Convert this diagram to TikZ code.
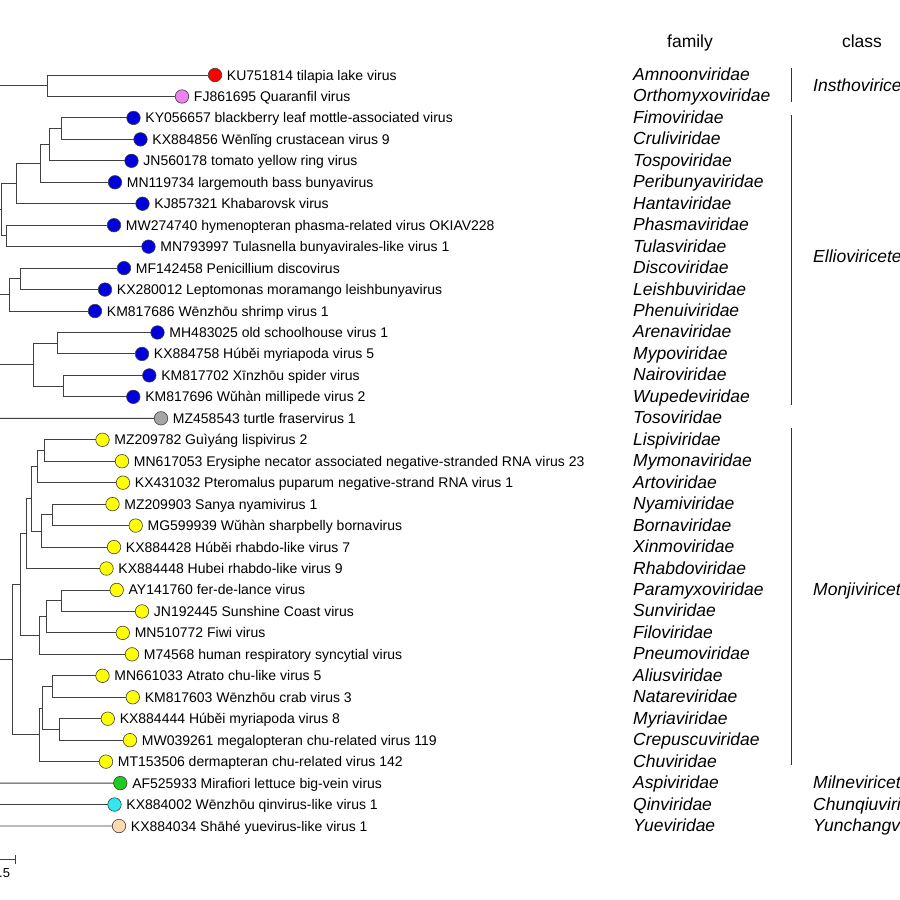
\documentclass[tikz,border=0pt]{standalone}
\usepackage{fontspec}
\setmainfont{Liberation Sans}
\usetikzlibrary{calc}
\definecolor{cRed}{HTML}{FF0000}
\definecolor{cViolet}{HTML}{EE82EE}
\definecolor{cBlue}{HTML}{0000DD}
\definecolor{cGray}{HTML}{A6A6A6}
\definecolor{cYellow}{HTML}{FFFF00}
\definecolor{cGreen}{HTML}{1ECB1E}
\definecolor{cCyan}{HTML}{33E6F0}
\definecolor{cPeach}{HTML}{FCD9AE}
\begin{document}
\begin{tikzpicture}[x=1pt,y=-1pt,
  branch/.style={draw=black!75, line width=0.9pt},
  classbar/.style={draw=black!80, line width=0.9pt},
  tipdot/.style={circle, draw=black!75, line width=0.6pt, minimum size=13.5pt, inner sep=0pt, outer sep=0pt},
  tiptext/.style={anchor=base west, inner sep=0pt, font=\fontsize{14}{16}\selectfont},
  famtext/.style={anchor=base west, inner sep=0pt, font=\fontsize{17.5}{20}\selectfont\itshape},
  headtext/.style={anchor=base, inner sep=0pt, font=\fontsize{17.5}{20}\selectfont}]
\useasboundingbox[fill=white] (0,0) rectangle (900,900);

% tips
\foreach \i/\cx/\col/\txt in {
 1/215/cRed/{KU751814 tilapia lake virus},
 2/182/cViolet/{FJ861695 Quaranfil virus},
 3/133.5/cBlue/{KY056657 blackberry leaf mottle-associated virus},
 4/140.5/cBlue/{KX884856 Wēnlǐng crustacean virus 9},
 5/131.5/cBlue/{JN560178 tomato yellow ring virus},
 6/115/cBlue/{MN119734 largemouth bass bunyavirus},
 7/142.5/cBlue/{KJ857321 Khabarovsk virus},
 8/114/cBlue/{MW274740 hymenopteran phasma-related virus OKIAV228},
 9/148.5/cBlue/{MN793997 Tulasnella bunyavirales-like virus 1},
 10/124/cBlue/{MF142458 Penicillium discovirus},
 11/105/cBlue/{KX280012 Leptomonas moramango leishbunyavirus},
 12/95/cBlue/{KM817686 Wēnzhōu shrimp virus 1},
 13/157.5/cBlue/{MH483025 old schoolhouse virus 1},
 14/142/cBlue/{KX884758 Húběi myriapoda virus 5},
 15/149.3/cBlue/{KM817702 Xīnzhōu spider virus},
 16/133.3/cBlue/{KM817696 Wǔhàn millipede virus 2},
 17/161/cGray/{MZ458543 turtle fraservirus 1},
 18/102.5/cYellow/{MZ209782 Guìyáng lispivirus 2},
 19/122/cYellow/{MN617053 Erysiphe necator associated negative-stranded RNA virus 23},
 20/123/cYellow/{KX431032 Pteromalus puparum negative-strand RNA virus 1},
 21/112.5/cYellow/{MZ209903 Sanya nyamivirus 1},
 22/135.7/cYellow/{MG599939 Wǔhàn sharpbelly bornavirus},
 23/114/cYellow/{KX884428 Húběi rhabdo-like virus 7},
 24/106.5/cYellow/{KX884448 Hubei rhabdo-like virus 9},
 25/116.7/cYellow/{AY141760 fer-de-lance virus},
 26/142/cYellow/{JN192445 Sunshine Coast virus},
 27/122.8/cYellow/{MN510772 Fiwi virus},
 28/132/cYellow/{M74568 human respiratory syncytial virus},
 29/102.5/cYellow/{MN661033 Atrato chu-like virus 5},
 30/132.8/cYellow/{KM817603 Wēnzhōu crab virus 3},
 31/107.8/cYellow/{KX884444 Húběi myriapoda virus 8},
 32/130/cYellow/{MW039261 megalopteran chu-related virus 119},
 33/106/cYellow/{MT153506 dermapteran chu-related virus 142},
 34/120.3/cGreen/{AF525933 Mirafiori lettuce big-vein virus},
 35/114.5/cCyan/{KX884002 Wēnzhōu qinvirus-like virus 1},
 36/119/cPeach/{KX884034 Shāhé yuevirus-like virus 1}}{
  \pgfmathsetmacro\ry{75+(\i-1)*21.457}
  \node[tipdot, fill=\col] (t\i) at (\cx,\ry) {};
  \node[tiptext] (l\i) at ($(t\i.east)+(5,5)$) {\txt};
}

% families
\foreach \i/\f in {1/Amnoonviridae,2/Orthomyxoviridae,3/Fimoviridae,4/Cruliviridae,
 5/Tospoviridae,6/Peribunyaviridae,7/Hantaviridae,8/Phasmaviridae,9/Tulasviridae,
 10/Discoviridae,11/Leishbuviridae,12/Phenuiviridae,13/Arenaviridae,14/Mypoviridae,
 15/Nairoviridae,16/Wupedeviridae,17/Tosoviridae,18/Lispiviridae,19/Mymonaviridae,
 20/Artoviridae,21/Nyamiviridae,22/Bornaviridae,23/Xinmoviridae,24/Rhabdoviridae,
 25/Paramyxoviridae,26/Sunviridae,27/Filoviridae,28/Pneumoviridae,29/Aliusviridae,
 30/Natareviridae,31/Myriaviridae,32/Crepuscuviridae,33/Chuviridae,34/Aspiviridae,
 35/Qinviridae,36/Yueviridae}{
  \pgfmathsetmacro\ry{75+(\i-1)*21.457+5.5}
  \node[famtext] (f\i) at (633,\ry) {\f};
}

% headers
\node[headtext] (hfam) at (690,47) {family};
\node[headtext] (hcls) at (862,47) {class};

% class bars and labels
\draw[classbar] (791,68) -- (791,102);
\draw[classbar] (791,115) -- (791,405);
\draw[classbar] (791,428) -- (791,765);
\node[famtext] (c1) at (813,91.2) {Insthoviricetes};
\node[famtext] (c2) at (813,262) {Ellioviricetes};
\node[famtext] (c3) at (813,595.5) {Monjiviricetes};
\node[famtext] (c4) at (813,788.6) {Milneviricetes};
\node[famtext] (c5) at (813,810) {Chunqiuviricetes};
\node[famtext] (c6) at (813,831.5) {Yunchangviricetes};

% internal nodes
\coordinate (nA) at (47.7,85.73);
\coordinate (n34) at (61.7,128.64);
\coordinate (n35) at (49.3,144.73);
\coordinate (n36) at (40,163.51);
\coordinate (n37) at (16,183.63);
\coordinate (n89) at (6.7,235.93);
\coordinate (nB) at (1.5,209.78);
\coordinate (n1011) at (20.7,278.84);
\coordinate (nC) at (9.3,294.93);
\coordinate (n1314) at (57.5,343.21);
\coordinate (n1516) at (63.3,386.13);
\coordinate (nD) at (33.5,364.67);
\coordinate (n1819) at (44.3,450.50);
\coordinate (n1820) at (37.3,466.59);
\coordinate (n2122) at (52.3,514.87);
\coordinate (n2123) at (41.7,530.96);
\coordinate (n1823) at (31.7,498.78);
\coordinate (n1824) at (26,533.65);
\coordinate (n2526) at (61,600.70);
\coordinate (n2527) at (46.7,616.79);
\coordinate (n2528) at (39.7,635.56);
\coordinate (n1828) at (20.7,584.61);
\coordinate (n2930) at (52.3,686.52);
\coordinate (n3132) at (59,729.44);
\coordinate (n2932) at (42.7,707.98);
\coordinate (n2933) at (39,734.80);
\coordinate (nE) at (12.7,659.71);

% stub coordinates (tree continues past left edge)
\coordinate (sA) at (-5,85.73);
\coordinate (sB) at (-5,209.78);
\coordinate (sC) at (-5,294.93);
\coordinate (sD) at (-5,364.67);
\coordinate (s17) at (-5,418.312);
\coordinate (sE) at (-5,659.71);
\coordinate (s34) at (-5,783.081);
\coordinate (s35) at (-5,804.538);
\coordinate (s36) at (-5,825.995);

% branches
\foreach \p/\c in {nA/t1.west,nA/t2.west,n34/t3.west,n34/t4.west,n35/n34,n35/t5.west,
 n36/n35,n36/t6.west,n37/n36,n37/t7.west,n89/t8.west,n89/t9.west,nB/n37,nB/n89,
 n1011/t10.west,n1011/t11.west,nC/n1011,nC/t12.west,n1314/t13.west,n1314/t14.west,
 n1516/t15.west,n1516/t16.west,nD/n1314,nD/n1516,n1819/t18.west,n1819/t19.west,
 n1820/n1819,n1820/t20.west,n2122/t21.west,n2122/t22.west,n2123/n2122,n2123/t23.west,
 n1823/n1820,n1823/n2123,n1824/n1823,n1824/t24.west,n2526/t25.west,n2526/t26.west,
 n2527/n2526,n2527/t27.west,n2528/n2527,n2528/t28.west,n1828/n1824,n1828/n2528,
 n2930/t29.west,n2930/t30.west,n3132/t31.west,n3132/t32.west,n2932/n2930,n2932/n3132,
 n2933/n2932,n2933/t33.west,nE/n1828,nE/n2933}{
  \draw[branch] (\p) |- (\c);
}
\foreach \s/\c in {sA/nA,sB/nB,sC/nC,sD/nD,s17/t17.west,sE/nE,s34/t34.west,s35/t35.west,s36/t36.west}{
  \draw[branch] (\s) -- (\c);
}

% scale bar
\coordinate (sb0) at (-5,859.5);
\coordinate (sb1) at (15,859.5);
\coordinate (sbt) at (15,855);
\coordinate (sbb) at (15,863.5);
\draw[branch] (sb0) -- (sb1);
\draw[branch] (sbt) -- (sbb);
\node[tiptext, font=\fontsize{13}{15}\selectfont] (sbl) at (-1,877) {.5};
\end{tikzpicture}
\end{document}
